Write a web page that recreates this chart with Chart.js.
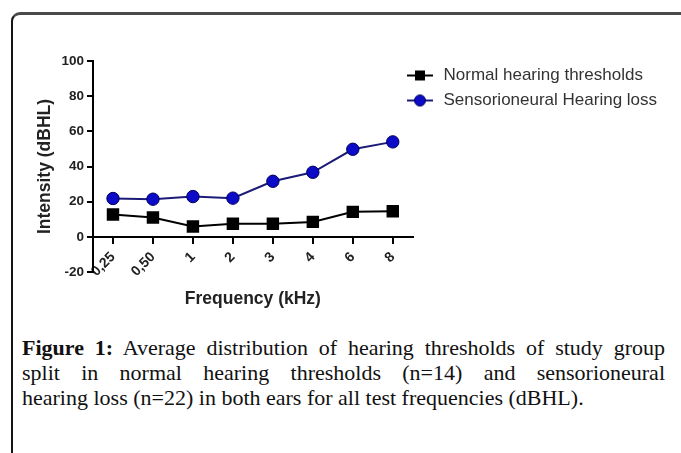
<!DOCTYPE html>
<html>
<head>
<meta charset="utf-8">
<script src="https://cdn.jsdelivr.net/npm/chart.js@4"></script>
<style>
  html, body { margin: 0; padding: 0; background: #fff; width: 681px; height: 453px; overflow: hidden; }
  #frame { position: absolute; left: 11px; top: 12px; width: 720px; height: 480px;
           border-top: 3px solid #4a4a4a; border-left: 2px solid #151515; border-top-left-radius: 9px; }
  #chart { position: absolute; left: 0; top: 0; }
  #caption { position: absolute; left: 22px; top: 335px; width: 643px;
             font-family: "Liberation Serif", "Times New Roman", serif; font-size: 22px; line-height: 25px; color: #111; }
  #caption .j { text-align: justify; text-align-last: justify; }
</style>
</head>
<body>
<div id="frame"></div>
<canvas id="chart" width="681" height="330"></canvas>
<div id="caption">
  <div class="j"><b>Figure 1:</b> Average distribution of hearing thresholds of study group</div>
  <div class="j">split in normal hearing thresholds (n=14) and sensorioneural</div>
  <div>hearing loss (n=22) in both ears for all test frequencies (dBHL).</div>
</div>
<script>
// ---- data ----
const frequencies = ['0,25', '0,50', '1', '2', '3', '4', '6', '8'];
const normalThresholds = [12.7, 11.0, 5.9, 7.4, 7.4, 8.5, 14.2, 14.6];
const sensorineuralLoss = [21.8, 21.4, 22.9, 22.0, 31.6, 36.7, 49.8, 54.0];
const seriesNames = ['Normal hearing thresholds', 'Sensorioneural Hearing loss'];
const yMin = -20, yMax = 100, yStep = 20;
const xTitle = 'Frequency (kHz)';
const yTitle = 'Intensity (dBHL)';

const FONT = '"Liberation Sans", Arial, sans-serif';
const BLACK = '#000000';
const BLUE_FILL = '#0c0cc8';
const BLUE_LINE = '#1c1c78';

// legend icons: line segment with marker
function makeIcon(lineColor, fill, shape) {
  const c = document.createElement('canvas');
  c.width = 26; c.height = 14;
  const g = c.getContext('2d');
  g.strokeStyle = lineColor; g.lineWidth = 2;
  g.beginPath(); g.moveTo(0, 7); g.lineTo(26, 7); g.stroke();
  g.fillStyle = fill;
  if (shape === 'rect') { g.fillRect(8, 2, 10, 10); }
  else { g.beginPath(); g.arc(13, 7, 5.5, 0, Math.PI * 2); g.fill(); g.strokeStyle = '#00005a'; g.lineWidth = 1; g.stroke(); }
  return c;
}
const legendIcons = [makeIcon(BLACK, BLACK, 'rect'), makeIcon(BLUE_LINE, BLUE_FILL, 'circle')];

// let the legend use its natural width and sit just right of the plot
const legendPlace = {
  id: 'legendPlace',
  afterLayout(chart) {
    const l = chart.legend;
    if (!l) return;
    l.maxWidth = 400;
    l.fit();
    l.left = 397; l.right = l.left + l.width;
    l.top -= 2; l.bottom = l.top + l.height;
    l.adjustHitBoxes && l.adjustHitBoxes();
  }
};

new Chart(document.getElementById('chart'), {
  type: 'line',
  data: {
    labels: frequencies,
    datasets: [
      {
        label: seriesNames[0], data: normalThresholds,
        borderColor: BLACK, backgroundColor: BLACK, borderWidth: 2, tension: 0,
        pointStyle: 'rect', pointRadius: 8.8, pointBackgroundColor: BLACK, pointBorderColor: BLACK, pointBorderWidth: 0
      },
      {
        label: seriesNames[1], data: sensorineuralLoss,
        borderColor: BLUE_LINE, backgroundColor: BLUE_FILL, borderWidth: 2, tension: 0,
        pointStyle: 'circle', pointRadius: 6.2, pointBackgroundColor: BLUE_FILL, pointBorderColor: '#00005a', pointBorderWidth: 1
      }
    ]
  },
  options: {
    responsive: false, animation: false, devicePixelRatio: 1,
    layout: { padding: { left: 31, top: 61, right: 141, bottom: 58 } },
    plugins: {
      tooltip: { enabled: false },
      legend: {
        position: 'right', align: 'start',
        labels: {
          usePointStyle: true, pointStyleWidth: 30, padding: 8,
          font: { family: FONT, size: 17 }, color: '#333',
          generateLabels(chart) {
            return chart.data.datasets.map((ds, i) => ({
              text: ds.label, pointStyle: legendIcons[i], fillStyle: ds.backgroundColor,
              strokeStyle: ds.borderColor, lineWidth: 0, hidden: false, datasetIndex: i, fontColor: '#333'
            }));
          }
        }
      }
    },
    scales: {
      x: {
        type: 'category', offset: true,
        position: { y: 0 },
        border: { color: BLACK, width: 2 },
        grid: { drawOnChartArea: false, tickLength: 6, color: BLACK, lineWidth: 2 },
        ticks: { font: { family: FONT, size: 14, weight: 'bold' }, color: '#222', minRotation: 45, maxRotation: 45, padding: 6, autoSkip: false },
        title: { display: true, text: xTitle, font: { family: FONT, size: 17.5, weight: 'bold' }, color: '#222', padding: { top: 3, bottom: 4 } }
      },
      y: {
        min: yMin, max: yMax,
        afterFit(scale) { scale.width = 62; },
        border: { color: BLACK, width: 2 },
        grid: { drawOnChartArea: false, tickLength: 6, color: BLACK, lineWidth: 2 },
        ticks: { stepSize: yStep, font: { family: FONT, size: 13.5, weight: 'bold' }, color: '#222', padding: 3 },
        title: { display: true, text: yTitle, font: { family: FONT, size: 17.5, weight: 'bold' }, color: '#222', padding: { top: 4, bottom: 4 } }
      }
    }
  },
  plugins: [legendPlace]
});
</script>
</body>
</html>
